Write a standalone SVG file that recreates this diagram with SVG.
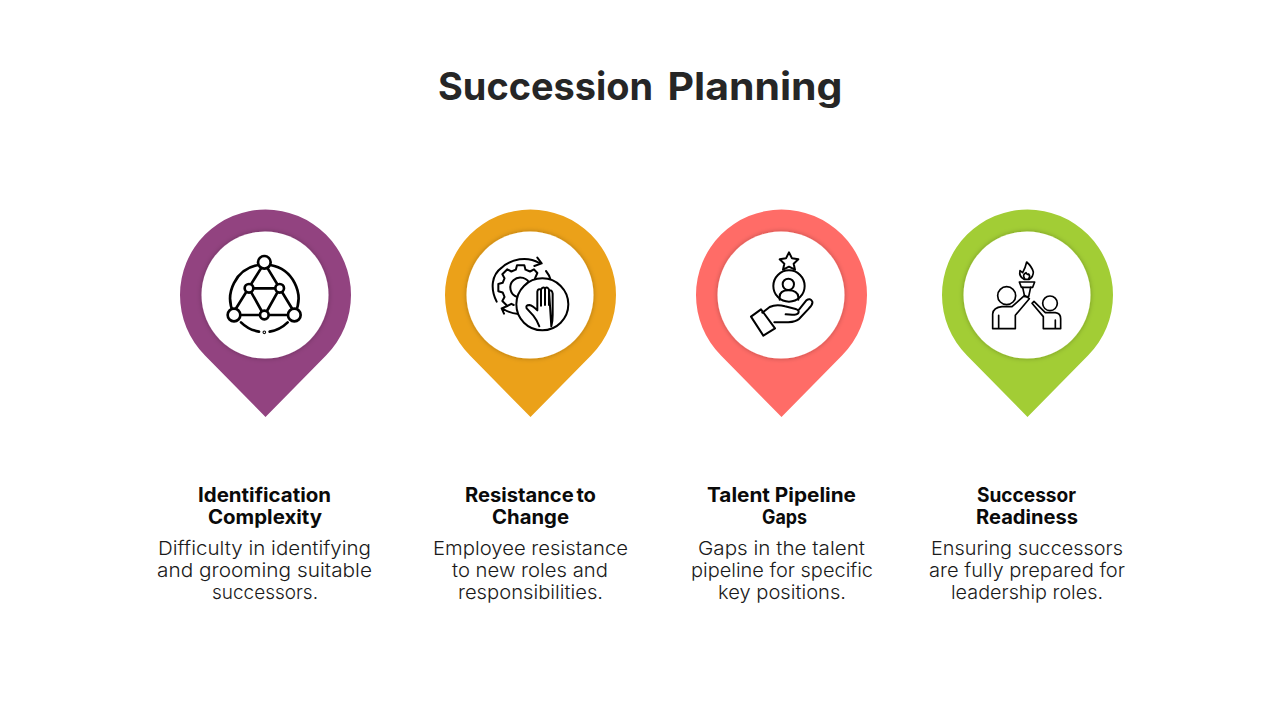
<svg xmlns="http://www.w3.org/2000/svg" width="1280" height="720" viewBox="0 0 1280 720">
<style>
text{font-family:"Inter","Liberation Sans",sans-serif;text-anchor:middle}
.title{font-size:38px;font-weight:700;fill:#262626}
.h{font-size:19.5px;font-weight:700;fill:#0a0a0a}
.b{font-size:19px;font-weight:300;fill:#1a1a1a}
.hole{fill:#fff;filter:url(#sh)}
.ic{fill:none;stroke:#000;stroke-width:8;stroke-linecap:round;stroke-linejoin:round}
.ic2{fill:none;stroke:#000;stroke-width:6;stroke-linecap:round;stroke-linejoin:round}
.w{fill:#fff}
</style>
<defs>
<filter id="sh" x="-20%" y="-20%" width="140%" height="140%"><feDropShadow dx="0" dy="0" stdDeviation="2.5" flood-color="#000" flood-opacity=".28"/></filter>
<path id="pin" d="M0 122L-60.5 60.5A85.5 85.5 0 1 1 60.5 60.5Z"/>
</defs>
<rect width="1280" height="720" fill="#fff"/>
<text class="title" y="100"><tspan x="550" textLength="215" lengthAdjust="spacingAndGlyphs">Succession</tspan> <tspan x="755" textLength="175" lengthAdjust="spacingAndGlyphs">Planning</tspan></text>

<g id="node-identification">
<use href="#pin" x="265.5" y="295" fill="#924380"/>
<circle class="hole" cx="265" cy="295" r="63.5"/>
<g transform="translate(215 245) scale(.3333)" class="ic">
<path d="M130 60A102 102 0 0 0 56 205M166 60A102 102 0 0 1 240 205M78 232A102 102 0 0 0 132 260M164 260A102 102 0 0 0 218 232"/>
<path d="M138 70L62 192M158 70L232 192M76 210H134M162 210H220M102 130L140 198M194 130L156 198M116 130H180"/>
<circle class="w" cx="148" cy="52" r="19"/><circle class="w" cx="57" cy="210" r="19"/><circle class="w" cx="238" cy="210" r="19"/>
<circle class="w" cx="102" cy="130" r="13"/><circle class="w" cx="194" cy="130" r="13"/><circle class="w" cx="148" cy="210" r="13"/>
<circle cx="148" cy="262" r="1.5"/>
</g>
</g>

<g id="node-resistance">
<use href="#pin" x="530.5" y="295" fill="#EBA119"/>
<circle class="hole" cx="530" cy="295" r="63.5"/>
<g transform="translate(480 245) scale(.3333)" class="ic2">
<path d="M50 170C30 130 35 90 65 68C95 42 140 32 178 54M172 38L185 55L163 63"/>
<path d="M70 192Q90 205 115 207M82 183L65 190L72 206"/>
<path d="M198 78Q208 90 212 105"/>
<path d="M101 180L94 176.5L82 183L67 168L73.5 156L68 142.5L55 139V117L68 113.5L73.5 100L67 88L82 73L94 79.5L107.500 74L111 61H133L136.500 74L150 79.500L162 73L172 84L165 100"/>
<path d="M112 156A30 30 0 1 1 150 120"/>
<circle class="w" cx="187" cy="178" r="78"/>
<path d="M178 244Q170 224 160 212L140 190Q136 180 148 180Q158 182 172 196V140Q174 130 183 134V182M183 134Q188 124 195 130V180M195 130Q203 124 207 134V180M207 136Q216 134 218 146V210Q218 230 214 244Z"/>
</g>
</g>

<g id="node-talent">
<use href="#pin" x="781.5" y="295" fill="#FF6C67"/>
<circle class="hole" cx="781" cy="295" r="63.5"/>
<g transform="translate(735 245) scale(.3333)" class="ic2">
<path d="M162 22L171 40L190 43L176 56L180 74L162 65L144 74L148 56L134 43L153 40Z"/>
<circle cx="162" cy="123" r="47"/>
<circle cx="160" cy="118" r="17"/>
<path d="M134 164V156Q134 136 160 136Q188 136 190 156V164"/>
<path d="M48 215L78 193L120 250L85 272Z"/>
<path d="M82 203L104 186Q124 176 150 184L182 192Q194 196 190 204Q186 212 152 208M192 194L214 166Q226 158 232 170Q234 178 222 190L192 222Q184 230 160 232H118"/>
</g>
</g>

<g id="node-successor">
<use href="#pin" x="1027.5" y="295" fill="#A2CD35"/>
<circle class="hole" cx="1027" cy="295" r="63.5"/>
<g transform="translate(980 250) scale(.3333)" class="ic2" style="stroke-width:5">
<path d="M140 36Q156 50 160 66Q160 80 148 88H132Q116 80 120 62L128 68Q136 54 140 36Z"/>
<path d="M134 86Q126 74 138 68Q142 76 146 72Q152 80 146 86"/>
<path d="M118 96H164L158 112H124Z"/>
<path d="M128 112L134 140H146L152 112"/>
<circle cx="80" cy="137" r="27"/>
<path d="M38 236V192Q40 172 66 170H96L134 136L148 146L106 196V236ZM56 236V196"/>
<circle cx="210" cy="160" r="22"/>
<path d="M156 160L162 154L196 188H226Q242 190 242 206V236H190V200ZM226 236V210"/>
</g>
</g>

<g id="label-1">
<text class="h" x="264.5" y="502" textLength="133" lengthAdjust="spacingAndGlyphs">Identification</text>
<text class="h" x="265" y="524" textLength="114" lengthAdjust="spacingAndGlyphs">Complexity</text>
<text class="b" x="264.5" y="555" textLength="213" lengthAdjust="spacingAndGlyphs">Difficulty in identifying</text>
<text class="b" x="264.5" y="577" textLength="215" lengthAdjust="spacingAndGlyphs">and grooming suitable</text>
<text class="b" x="265" y="599" textLength="106" lengthAdjust="spacingAndGlyphs">successors.</text>
</g>
<g id="label-2">
<text class="h" x="530.5" y="502" textLength="131" lengthAdjust="spacingAndGlyphs" word-spacing="-2">Resistance to</text>
<text class="h" x="530.5" y="524" textLength="77" lengthAdjust="spacingAndGlyphs">Change</text>
<text class="b" x="530.5" y="555" textLength="195" lengthAdjust="spacingAndGlyphs">Employee resistance</text>
<text class="b" x="530" y="577" textLength="156" lengthAdjust="spacingAndGlyphs">to new roles and</text>
<text class="b" x="530.5" y="599" textLength="145" lengthAdjust="spacingAndGlyphs">responsibilities.</text>
</g>
<g id="label-3">
<text class="h" x="781.5" y="502" textLength="149" lengthAdjust="spacingAndGlyphs">Talent Pipeline</text>
<text class="h" x="784.5" y="524" textLength="45" lengthAdjust="spacingAndGlyphs">Gaps</text>
<text class="b" x="781.5" y="555" textLength="167" lengthAdjust="spacingAndGlyphs">Gaps in the talent</text>
<text class="b" x="782" y="577" textLength="182" lengthAdjust="spacingAndGlyphs">pipeline for specific</text>
<text class="b" x="782" y="599" textLength="128" lengthAdjust="spacingAndGlyphs">key positions.</text>
</g>
<g id="label-4">
<text class="h" x="1026.5" y="502" textLength="99" lengthAdjust="spacingAndGlyphs">Successor</text>
<text class="h" x="1027" y="524" textLength="102" lengthAdjust="spacingAndGlyphs">Readiness</text>
<text class="b" x="1027" y="555" textLength="192" lengthAdjust="spacingAndGlyphs">Ensuring successors</text>
<text class="b" x="1027" y="577" textLength="196" lengthAdjust="spacingAndGlyphs">are fully prepared for</text>
<text class="b" x="1027" y="599" textLength="152" lengthAdjust="spacingAndGlyphs">leadership roles.</text>
</g>
<g id="connectors"/>
</svg>
